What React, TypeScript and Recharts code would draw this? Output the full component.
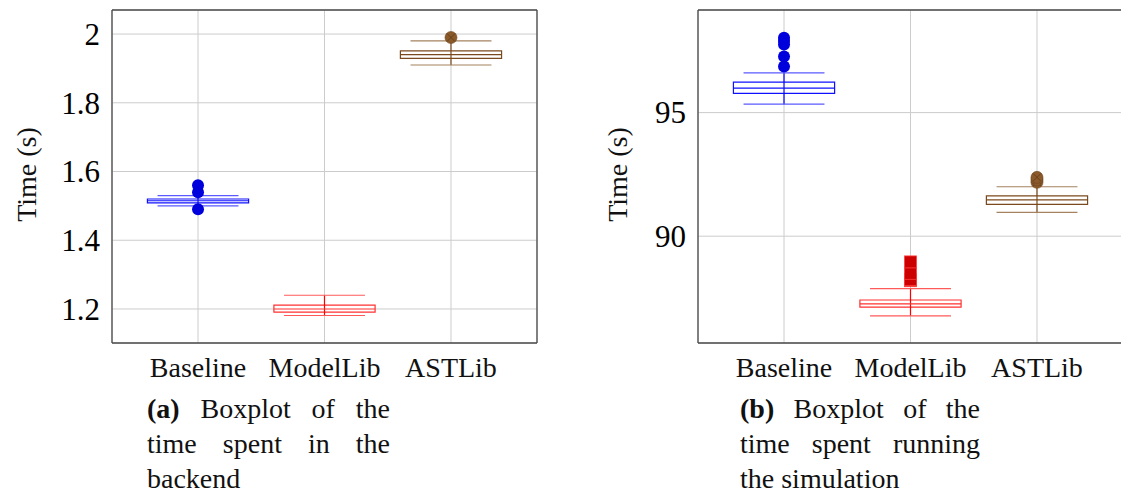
import React from 'react';
import {
  ComposedChart,
  XAxis,
  YAxis,
  CartesianGrid,
  ReferenceArea,
  ReferenceLine,
  Scatter,
} from 'recharts';

// ---------- data ----------
const categories = ['Baseline', 'ModelLib', 'ASTLib'];
const categoryPositions = [1, 2, 3];

// (a) time spent in the backend
const backendLowerWhisker = [1.5, 1.181, 1.91];
const backendQ1 = [1.509, 1.191, 1.929];
const backendMedian = [1.515, 1.2, 1.94];
const backendQ3 = [1.52, 1.211, 1.951];
const backendUpperWhisker = [1.53, 1.24, 1.98];
const backendOutliers = [[1.56, 1.54, 1.49], [], [1.99]];
const backendTicks = [1.2, 1.4, 1.6, 1.8, 2];
const backendDomain = [1.101, 2.07];

// (b) time spent running the simulation
const simLowerWhisker = [95.34, 86.78, 90.96];
const simQ1 = [95.78, 87.13, 91.29];
const simMedian = [95.99, 87.26, 91.47];
const simQ3 = [96.23, 87.42, 91.63];
const simUpperWhisker = [96.61, 87.88, 92.0];
const simOutliers = [
  [96.86, 97.27, 97.75, 97.9, 98.03],
  [88.2, 88.25, 88.5, 88.96],
  [92.18, 92.28, 92.38],
];
const simTicks = [90, 95];
const simDomain = [85.68, 99.15];

const yLabel = 'Time (s)';
const captionA = ['(a)', 'Boxplot of the', 'time spent in the', 'backend'];
const captionB = ['(b)', 'Boxplot of the', 'time spent running', 'the simulation'];

// ---------- styles ----------
const FONT = '"Liberation Serif", "Times New Roman", serif';
const FS = 28;
const TICK_FS = 31;
const X_DOMAIN = [0.32, 3.68];
const BOX_HALF = 0.4;
const CAP_HALF = 0.32;
const palette = [
  { box: '#1010ff', stem: '#0000ff', cap: '#5a5aff', outlier: '#0000dd', marker: 'circle' },
  { box: '#ff3030', stem: '#ff0000', cap: '#ff5a5a', outlier: '#cc0000', marker: 'square' },
  { box: '#7a4a1e', stem: '#7a4a1e', cap: '#a58260', outlier: '#8b5a2b', marker: 'otimes' },
];

const makeShape = (kind: string, color: string) => (props: any) => {
  const { cx, cy } = props;
  if (cx == null || cy == null) return <g />;
  if (kind === 'square') {
    return <rect x={cx - 6} y={cy - 6} width={12} height={12} fill={color} stroke="#ff4040" strokeWidth={0.8} />;
  }
  if (kind === 'otimes') {
    const d = 3.8;
    return (
      <g>
        <circle cx={cx} cy={cy} r={6} fill={color} stroke="#6e4420" strokeWidth={0.6} />
        <line x1={cx - d} y1={cy - d} x2={cx + d} y2={cy + d} stroke="#5e3a18" strokeWidth={0.8} />
        <line x1={cx - d} y1={cy + d} x2={cx + d} y2={cy - d} stroke="#5e3a18" strokeWidth={0.8} />
      </g>
    );
  }
  return <circle cx={cx} cy={cy} r={6} fill={color} />;
};

type BoxProps = {
  lower: number[];
  q1: number[];
  median: number[];
  q3: number[];
  upper: number[];
  outliers: number[][];
  ticks: number[];
  domain: number[];
  fmt: (v: number) => string;
  width: number;
  axisWidth: number;
  labelOffset: number;
};

const BoxPlotChart = (p: BoxProps) => {
  const YTick = (props: any) => (
    <text
      x={props.x - 12}
      y={props.y}
      dy="0.35em"
      textAnchor="end"
      fontFamily={FONT}
      fontSize={TICK_FS}
      fill="#000"
    >
      {p.fmt(props.payload.value)}
    </text>
  );
  const XTick = (props: any) => {
    const idx = categoryPositions.indexOf(props.payload.value);
    return (
      <text x={props.x} y={props.y + 34} textAnchor="middle" fontFamily={FONT} fontSize={FS} fill="#111">
        {categories[idx]}
      </text>
    );
  };
  const renderLabel = (props: any) => {
    const vb = props.viewBox || {};
    const cx = vb.x + vb.width - p.labelOffset;
    const cy = vb.y + vb.height / 2 - 2;
    return (
      <text
        x={cx}
        y={cy}
        transform={`rotate(-90, ${cx}, ${cy})`}
        textAnchor="middle"
        dominantBaseline="central"
        fontFamily={FONT}
        fontSize={FS}
        fill="#111"
      >
        {yLabel}
      </text>
    );
  };

  const elements: any[] = [];
  categoryPositions.forEach((c, i) => {
    const st = palette[i];
    elements.push(
      <ReferenceLine
        key={`stem-${i}`}
        segment={[{ x: c, y: p.lower[i] }, { x: c, y: p.upper[i] }]}
        stroke={st.stem}
        strokeWidth={1.2}
      />,
      <ReferenceArea
        key={`box-${i}`}
        x1={c - BOX_HALF}
        x2={c + BOX_HALF}
        y1={p.q1[i]}
        y2={p.q3[i]}
        fill="#ffffff"
        fillOpacity={1}
        stroke={st.box}
        strokeWidth={1.2}
      />,
      <ReferenceLine
        key={`med-${i}`}
        segment={[{ x: c - BOX_HALF, y: p.median[i] }, { x: c + BOX_HALF, y: p.median[i] }]}
        stroke={st.box}
        strokeWidth={1.2}
      />,
      <ReferenceLine
        key={`capu-${i}`}
        segment={[{ x: c - CAP_HALF, y: p.upper[i] }, { x: c + CAP_HALF, y: p.upper[i] }]}
        stroke={st.cap}
        strokeWidth={1.2}
      />,
      <ReferenceLine
        key={`capl-${i}`}
        segment={[{ x: c - CAP_HALF, y: p.lower[i] }, { x: c + CAP_HALF, y: p.lower[i] }]}
        stroke={st.cap}
        strokeWidth={1.2}
      />
    );
    if (p.outliers[i].length) {
      elements.push(
        <Scatter
          key={`out-${i}`}
          data={p.outliers[i].map((v) => ({ x: c, y: v }))}
          dataKey="y"
          shape={makeShape(st.marker, st.outlier)}
          isAnimationActive={false}
        />
      );
    }
  });

  const frame = '#4a4a4a';
  return (
    <ComposedChart width={p.width} height={400} margin={{ top: 10, right: 23, left: 0, bottom: 0 }}>
      <CartesianGrid stroke="#cccccc" strokeWidth={1} />
      <XAxis
        xAxisId={0}
        dataKey="x"
        type="number"
        domain={X_DOMAIN}
        ticks={categoryPositions}
        allowDataOverflow
        height={57}
        tickSize={0}
        tickMargin={0}
        tickLine={false}
        axisLine={{ stroke: frame, strokeWidth: 1.3 }}
        tick={<XTick />}
        interval={0}
      />
      <XAxis
        xAxisId="top"
        orientation="top"
        mirror
        type="number"
        domain={X_DOMAIN}
        ticks={categoryPositions}
        allowDataOverflow
        tick={false}
        tickSize={5}
        tickLine={{ stroke: '#777', strokeWidth: 1.3 }}
        axisLine={{ stroke: frame, strokeWidth: 1.3 }}
      />
      <XAxis
        xAxisId="bottomTicks"
        orientation="bottom"
        mirror
        type="number"
        domain={X_DOMAIN}
        ticks={categoryPositions}
        allowDataOverflow
        tick={false}
        tickSize={5}
        tickLine={{ stroke: '#777', strokeWidth: 1.3 }}
        axisLine={false}
      />
      <YAxis
        yAxisId={0}
        dataKey="y"
        type="number"
        domain={p.domain}
        ticks={p.ticks}
        allowDataOverflow
        width={p.axisWidth}
        tickSize={0}
        tickMargin={0}
        tickLine={false}
        axisLine={{ stroke: frame, strokeWidth: 1.3 }}
        tick={<YTick />}
        interval={0}
        label={{ content: renderLabel }}
      />
      <YAxis
        yAxisId="leftTicks"
        orientation="left"
        mirror
        type="number"
        domain={p.domain}
        ticks={p.ticks}
        allowDataOverflow
        tick={false}
        tickSize={5}
        tickLine={{ stroke: '#777', strokeWidth: 1.3 }}
        axisLine={false}
      />
      <YAxis
        yAxisId="right"
        orientation="right"
        mirror
        type="number"
        domain={p.domain}
        ticks={p.ticks}
        allowDataOverflow
        tick={false}
        tickSize={5}
        tickLine={{ stroke: '#777', strokeWidth: 1.3 }}
        axisLine={{ stroke: frame, strokeWidth: 1.3 }}
      />
      {elements}
    </ComposedChart>
  );
};

const Caption = ({ left, width, lines }: { left: number; width: number; lines: string[] }) => {
  const rows = [
    <>
      <b>{lines[0]}</b> {lines[1]}
    </>,
    <>{lines[2]}</>,
    <>{lines[3]}</>,
  ];
  return (
    <div
      style={{
        position: 'absolute',
        left,
        top: 391,
        width,
        fontFamily: FONT,
        fontSize: FS,
        lineHeight: '35px',
        color: '#111',
      }}
    >
      {rows.map((r, i) => (
        <div
          key={i}
          style={{
            textAlign: i < 2 ? 'justify' : 'left',
            textAlignLast: i < 2 ? 'justify' : 'left',
          } as any}
        >
          {r}
        </div>
      ))}
    </div>
  );
};

export default function App() {
  return (
    <div
      style={{
        position: 'absolute',
        left: 0,
        top: 0,
        width: 1121,
        height: 496,
        overflow: 'hidden',
        background: '#fff',
      }}
    >
      <div style={{ position: 'absolute', left: 0, top: 0 }}>
        <BoxPlotChart
          lower={backendLowerWhisker}
          q1={backendQ1}
          median={backendMedian}
          q3={backendQ3}
          upper={backendUpperWhisker}
          outliers={backendOutliers}
          ticks={backendTicks}
          domain={backendDomain}
          fmt={(v) => String(v)}
          width={560}
          axisWidth={112}
          labelOffset={86}
        />
      </div>
      <div style={{ position: 'absolute', left: 580, top: 0 }}>
        <BoxPlotChart
          lower={simLowerWhisker}
          q1={simQ1}
          median={simMedian}
          q3={simQ3}
          upper={simUpperWhisker}
          outliers={simOutliers}
          ticks={simTicks}
          domain={simDomain}
          fmt={(v) => String(v)}
          width={566}
          axisWidth={118}
          labelOffset={81}
        />
      </div>
      <Caption left={147} width={243} lines={captionA} />
      <Caption left={740} width={240} lines={captionB} />
    </div>
  );
}
